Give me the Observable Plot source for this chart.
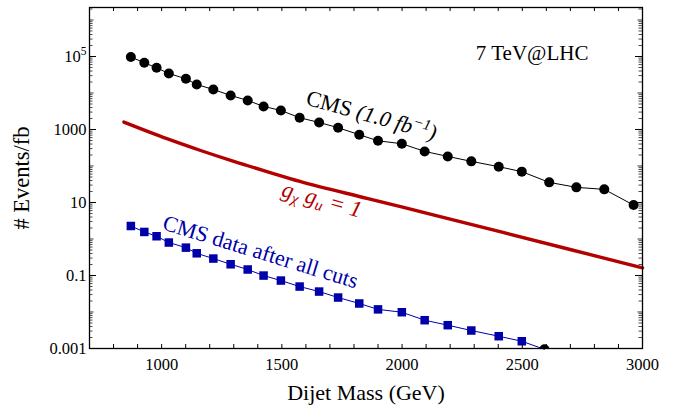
<!DOCTYPE html>
<html>
<head>
<meta charset="utf-8">
<script src="https://cdn.jsdelivr.net/npm/d3@7"></script>
<script src="https://cdn.jsdelivr.net/npm/@observablehq/plot@0.6"></script>
<style>
  html, body { margin: 0; padding: 0; background: #fff; }
</style>
</head>
<body>
<div id="chart"></div>
<script>
// ---- data ----
const cmsMass   = [872, 928, 979, 1030, 1101, 1146, 1215, 1287, 1358, 1424, 1496, 1574, 1655, 1734, 1822, 1900, 1999, 2094, 2190, 2288, 2402, 2498, 2612, 2725, 2841, 2963];
const cmsEvents = [97000, 67300, 49100, 34200, 24500, 17100, 12500, 8570, 6250, 4280, 3330, 2100, 1560, 1120, 720, 490, 408, 251, 183, 134, 95.8, 70.0, 35.6, 26.0, 22.9, 8.5];

const cutsMass   = [872, 928, 979, 1030, 1101, 1146, 1215, 1287, 1358, 1424, 1496, 1574, 1655, 1734, 1822, 1900, 1999, 2094, 2190, 2288, 2402, 2498];
const cutsEvents = [2.27, 1.56, 1.19, 0.80, 0.58, 0.406, 0.291, 0.203, 0.146, 0.0996, 0.0727, 0.0498, 0.0363, 0.0249, 0.0171, 0.0118, 0.00986, 0.00596, 0.00435, 0.00311, 0.00217, 0.00158];

const edgeMass   = [2592];
const edgeEvents = [0.00095];

const modelMass   = [843, 1022, 1159, 1297, 1438, 1575, 1854, 2146, 2420, 2699, 3000];
const modelEvents = [1592, 560, 270, 136, 70.4, 37.9, 13.0, 4.32, 1.51, 0.516, 0.161];

const xTickValues = [1000, 1500, 2000, 2500, 3000];
const xTickText   = ["1000", "1500", "2000", "2500", "3000"];
const yTickValues = [1e5, 1000, 10, 0.1, 0.001];
const yTickText   = ["10^5", "1000", "10", "0.1", "0.001"];

const xTitle = "Dijet Mass (GeV)";
const yTitle = "# Events/fb";
const energyNote = "7 TeV@LHC";
const cmsNote = "CMS (1.0 fb^-1)";
const modelNote = "g_χ g_u = 1";
const cutsNote = "CMS data after all cuts";

// ---- layout ----
const W = 673, H = 407;
const mL = 89, mR = 31, mT = 7, mB = 59;
const plotW = W - mL - mR, plotH = H - mT - mB;

const RED = "#b30000", BLUE = "#0000aa";

const cms   = cmsMass.map((m, i) => ({m, e: cmsEvents[i]}));
const cuts  = cutsMass.map((m, i) => ({m, e: cutsEvents[i]}));
const edge  = edgeMass.map((m, i) => ({m, e: edgeEvents[i]}));
const model = modelMass.map((m, i) => ({m, e: modelEvents[i]}));

// tick positions
const xMinor = d3.range(800, 3000, 100);
const yMajor = yTickValues;
const yMid = [1e-2, 1, 100, 1e4, 1e6];
const yMinor = [];
for (let k = -3; k <= 6; k++) for (let j = 2; j <= 9; j++) { const v = j * 10 ** k; if (v < 2.2e6) yMinor.push(v); }

const chart = Plot.plot({
  width: W, height: H,
  marginLeft: mL, marginRight: mR, marginTop: mT, marginBottom: mB,
  x: {type: "linear", domain: [700, 3000], axis: null},
  y: {type: "log", domain: [0.001, 2.2e6], axis: null},
  style: {fontFamily: "'Liberation Serif', 'Times New Roman', serif", fontSize: "16.5px", color: "black", background: "white"},
  marks: [
    // model curve
    Plot.line(model, {x: "m", y: "e", stroke: RED, strokeWidth: 3.4, curve: "monotone-x"}),
    // CMS data
    Plot.line(cms, {x: "m", y: "e", stroke: "black", strokeWidth: 1}),
    Plot.dot(cms, {x: "m", y: "e", r: 5, fill: "black", stroke: "none"}),
    // after cuts
    Plot.line([...cuts, ...edge], {x: "m", y: "e", stroke: BLUE, strokeWidth: 1}),
    Plot.dot(cuts, {x: "m", y: "e", r: 4.8, symbol: "square", fill: BLUE, stroke: "none"}),
    Plot.dot(edge, {x: "m", y: "e", r: 5, fill: "black", stroke: "none", clip: true}),

    // ticks (inward) bottom/top
    Plot.tickX(xMinor, {x: d => d, insetTop: plotH - 4, stroke: "black", strokeWidth: 1}),
    Plot.tickX(xMinor, {x: d => d, insetBottom: plotH - 4, stroke: "black", strokeWidth: 1}),
    // left/right
    Plot.tickY(yMajor, {y: d => d, insetRight: plotW - 7, stroke: "black", strokeWidth: 1}),
    Plot.tickY(yMajor, {y: d => d, insetLeft: plotW - 7, stroke: "black", strokeWidth: 1}),
    Plot.tickY(yMid, {y: d => d, insetRight: plotW - 4.5, stroke: "black", strokeWidth: 0.8}),
    Plot.tickY(yMid, {y: d => d, insetLeft: plotW - 4.5, stroke: "black", strokeWidth: 0.8}),
    Plot.tickY(yMinor, {y: d => d, insetRight: plotW - 3.5, stroke: "black", strokeWidth: 0.7}),
    Plot.tickY(yMinor, {y: d => d, insetLeft: plotW - 3.5, stroke: "black", strokeWidth: 0.7}),

    Plot.frame({stroke: "black", strokeWidth: 1.3}),

    // tick labels
    Plot.text(xTickValues, {x: d => d, text: (d, i) => xTickText[i], frameAnchor: "bottom", lineAnchor: "middle", dy: 16, fontSize: 16.5, fill: "black"}),
    Plot.text(yTickValues, {y: d => d, text: (d, i) => yTickText[i], frameAnchor: "left", lineAnchor: "middle", dx: -3, textAnchor: "end", fontSize: 16.5, fill: "black"}),

    // axis titles
    Plot.text([xTitle], {frameAnchor: "bottom", lineAnchor: "middle", dy: 44, fontSize: 22, fill: "black"}),
    Plot.text([yTitle], {frameAnchor: "left", lineAnchor: "middle", textAnchor: "middle", dx: -68, rotate: -90, fontSize: 22.5, fill: "black"}),

    // annotations
    Plot.text([energyNote], {x: 2541, y: 1.21e5, fontSize: 21, fill: "black"}),
    Plot.text([cmsNote], {x: 1873, y: 2420, rotate: 15.5, fontSize: 22, fill: "black"}),
    Plot.text([modelNote], {x: 1667, y: 12.1, rotate: 15.5, fontSize: 23, fill: RED, fontStyle: "italic"}),
    Plot.text([cutsNote], {x: 1411, y: 0.44, rotate: 17, fontSize: 22, fill: BLUE})
  ]
});

// ---- rich text (superscripts / subscripts / italics) ----
const NS = "http://www.w3.org/2000/svg";
function ts(txt, attrs) {
  const t = document.createElementNS(NS, "tspan");
  for (const k in attrs) t.setAttribute(k, attrs[k]);
  t.textContent = txt;
  return t;
}
chart.querySelectorAll("text").forEach(t => {
  const s = t.textContent;
  if (s === yTickText[0]) {
    const [b, e] = s.split("^");
    t.textContent = "";
    t.appendChild(ts(b, {}));
    t.appendChild(ts(e, {"font-size": "11.5", dy: "-6.5"}));
  } else if (s === cmsNote) {
    t.textContent = "";
    t.appendChild(ts("CMS ", {}));
    t.appendChild(ts("(1.0 fb", {"font-style": "italic"}));
    t.appendChild(ts("\u22121", {"font-style": "italic", "font-size": "15", dy: "-8"}));
    t.appendChild(ts(")", {"font-style": "italic", dy: "8"}));
  } else if (s === modelNote) {
    t.textContent = "";
    t.appendChild(ts("g", {}));
    t.appendChild(ts("\u03c7", {"font-size": "15.5", dy: "4"}));
    t.appendChild(ts(" g", {dy: "-4"}));
    t.appendChild(ts("u", {"font-size": "15.5", dy: "4"}));
    t.appendChild(ts(" = 1", {dy: "-4"}));
  }
});

document.getElementById("chart").append(chart);
</script>
</body>
</html>
